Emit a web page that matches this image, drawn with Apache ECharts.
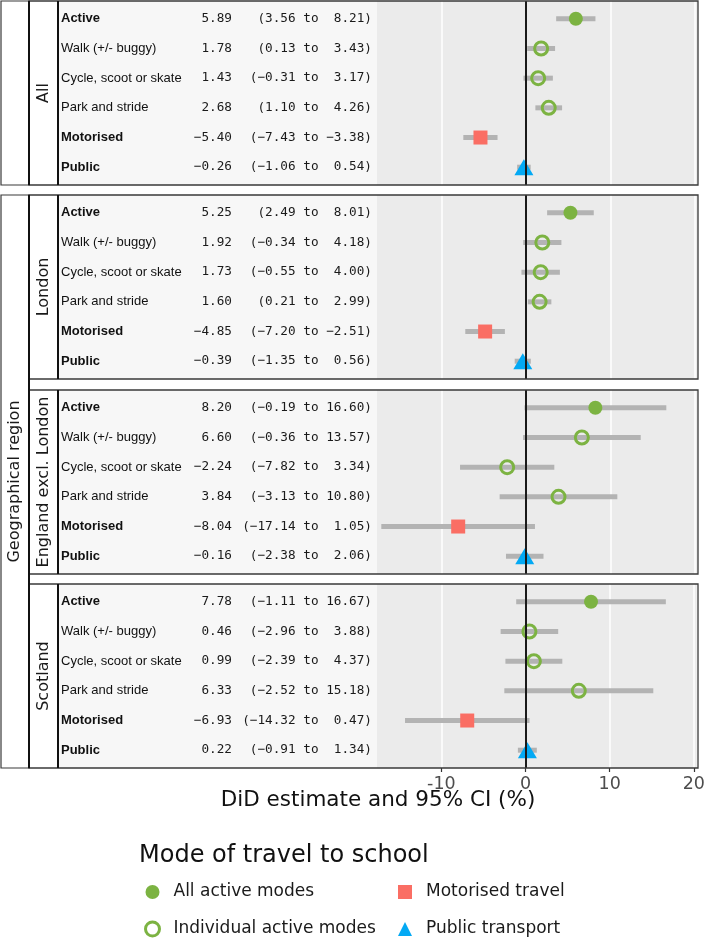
<!DOCTYPE html>
<html>
<head>
<meta charset="utf-8">
<script src="https://cdn.jsdelivr.net/npm/echarts@6/dist/echarts.min.js"></script>
<style>
html, body { margin: 0; padding: 0; background: #fff; }
#chart { width: 708px; height: 942px; }
</style>
</head>
<body>
<div id="chart"></div>
<script>
// regions (facets) and rows
var regions = ['All', 'London', 'England excl. London', 'Scotland'];
var modes = ['Active', 'Walk (+/- buggy)', 'Cycle, scoot or skate', 'Park and stride', 'Motorised', 'Public'];
var boldModes = ['Active', 'Motorised', 'Public'];
var modeGroups = ['All active modes', 'Individual active modes', 'Individual active modes',
    'Individual active modes', 'Motorised travel', 'Public transport'];

// DiD estimates and 95% CI
var estAll = [5.89, 1.78, 1.43, 2.68, -5.40, -0.26];
var loAll = [3.56, 0.13, -0.31, 1.10, -7.43, -1.06];
var hiAll = [8.21, 3.43, 3.17, 4.26, -3.38, 0.54];

var estLondon = [5.25, 1.92, 1.73, 1.60, -4.85, -0.39];
var loLondon = [2.49, -0.34, -0.55, 0.21, -7.20, -1.35];
var hiLondon = [8.01, 4.18, 4.00, 2.99, -2.51, 0.56];

var estEngland = [8.20, 6.60, -2.24, 3.84, -8.04, -0.16];
var loEngland = [-0.19, -0.36, -7.82, -3.13, -17.14, -2.38];
var hiEngland = [16.60, 13.57, 3.34, 10.80, 1.05, 2.06];

var estScotland = [7.78, 0.46, 0.99, 6.33, -6.93, 0.22];
var loScotland = [-1.11, -2.96, -2.39, -2.52, -14.32, -0.91];
var hiScotland = [16.67, 3.88, 4.37, 15.18, 0.47, 1.34];

var xTicks = [-10, 0, 10, 20];
var rowTicks = [0, 1, 2, 3, 4, 5];

var est = [estAll, estLondon, estEngland, estScotland];
var lo = [loAll, loLondon, loEngland, loScotland];
var hi = [hiAll, hiLondon, hiEngland, hiScotland];

var GREEN = '#7cb342', RED = '#fa6e64', BLUE = '#03a9f4';

var groupStyle = {
    'All active modes': { symbol: 'circle', symbolSize: 14, itemStyle: { color: GREEN, opacity: 1 } },
    'Individual active modes': { symbol: 'circle', symbolSize: 13, itemStyle: { color: 'rgba(0,0,0,0)', borderColor: GREEN, borderWidth: 3, opacity: 1 } },
    'Motorised travel': { symbol: 'rect', symbolSize: 14, itemStyle: { color: RED, opacity: 1 } },
    'Public transport': { symbol: 'triangle', symbolSize: [19, 16], itemStyle: { color: BLUE, opacity: 1 } }
};

var panelTop = [1, 195, 390, 584];
var panelH = 184;

function fmt(v) {
    return v.toFixed(2).replace('-', '\u2212');
}

var chart = echarts.init(document.getElementById('chart'));

var grids = [], xAxes = [], yAxes = [], series = [], graphics = [];

regions.forEach(function (region, p) {
    var top = panelTop[p];
    var estText = est[p].map(fmt);
    var ciText = lo[p].map(function (l, i) {
        return '(' + fmt(l) + ' to ' + fmt(hi[p][i]).padStart(5, ' ') + ')';
    });

    grids.push({
        left: 377, top: top, width: 321, height: panelH,
        show: true, backgroundColor: '#ebebeb', borderWidth: 0
    });

    xAxes.push({
        gridIndex: p,
        type: 'value',
        min: -17.65,
        max: 20.35,
        axisLine: { show: false, onZero: false },
        axisTick: { show: p === 3, customValues: xTicks, length: 4, lineStyle: { color: '#333', width: 1.2 } },
        axisLabel: {
            show: p === 3, customValues: xTicks, margin: 7,
            fontFamily: 'DejaVu Sans', fontSize: 17.5, color: '#4d4d4d'
        },
        splitLine: { show: true, lineStyle: { color: '#ffffff', width: 1.5 } }
    });

    var yBase = {
        gridIndex: p, type: 'value', min: -0.6, max: 5.6, inverse: true, position: 'left', z: 50,
        axisLine: { show: false, onZero: false }, axisTick: { show: false }, splitLine: { show: false }
    };
    // CI column (also the axis the marks use)
    yAxes.push(Object.assign({}, yBase, {
        axisLabel: {
            customValues: rowTicks, margin: 5, align: 'right',
            fontFamily: 'DejaVu Sans Mono', fontSize: 12.7, color: '#1a1a1a',
            formatter: function (v) { return ciText[v]; }
        }
    }));
    // estimate column
    yAxes.push(Object.assign({}, yBase, {
        axisLabel: {
            customValues: rowTicks, margin: 145, align: 'right',
            fontFamily: 'DejaVu Sans Mono', fontSize: 12.7, color: '#1a1a1a',
            formatter: function (v) { return estText[v]; }
        }
    }));
    // mode label column
    yAxes.push(Object.assign({}, yBase, {
        axisLabel: {
            customValues: rowTicks, margin: 316, align: 'left',
            fontFamily: 'Liberation Sans', fontSize: 13, color: '#111',
            formatter: function (v) {
                var s = modes[v];
                return boldModes.indexOf(s) >= 0 ? '{b|' + s + '}' : s;
            },
            rich: { b: { fontFamily: 'Liberation Sans', fontSize: 13, fontWeight: 'bold', color: '#111' } }
        }
    }));

    // error bars
    series.push({
        type: 'custom',
        name: 'CI',
        xAxisIndex: p,
        yAxisIndex: p * 3,
        silent: true,
        encode: { x: [0, 1], y: 2 },
        data: lo[p].map(function (l, i) { return [l, hi[p][i], i]; }),
        renderItem: function (params, api) {
            var a = api.coord([api.value(0), api.value(2)]);
            var b = api.coord([api.value(1), api.value(2)]);
            return {
                type: 'line',
                shape: { x1: a[0], y1: a[1], x2: b[0], y2: b[1] },
                style: { stroke: '#b3b3b3', lineWidth: 5 }
            };
        }
    });

    // points, one series per legend group
    ['All active modes', 'Individual active modes', 'Motorised travel', 'Public transport'].forEach(function (g, k) {
        var data = [];
        modeGroups.forEach(function (mg, i) {
            if (mg === g) data.push([est[p][i], i]);
        });
        var s = Object.assign({
            type: 'scatter',
            name: g,
            xAxisIndex: p,
            yAxisIndex: p * 3,
            silent: true,
            data: data
        }, groupStyle[g]);
        if (k === 0) {
            s.markLine = {
                silent: true,
                symbol: ['none', 'none'],
                label: { show: false },
                lineStyle: { color: '#1a1a1a', width: 2, type: 'solid', opacity: 1 },
                data: [{ xAxis: 0 }]
            };
        }
        series.push(s);
    });

    // strip, table background and borders
    graphics.push({
        type: 'rect', shape: { x: 29, y: top, width: 29, height: panelH },
        style: { fill: '#ffffff' }, z: -10
    });
    graphics.push({
        type: 'rect', shape: { x: 58, y: top, width: 319, height: panelH },
        style: { fill: '#f7f7f7' }, z: -10
    });
    graphics.push({
        type: 'rect', shape: { x: 29, y: top, width: 669, height: panelH },
        style: { fill: null, stroke: '#3a3a3a', lineWidth: 1.3 }, z: 100
    });
    graphics.push({
        type: 'line', shape: { x1: 58, y1: top, x2: 58, y2: top + panelH },
        style: { stroke: '#111', lineWidth: 2 }, z: 101
    });
    graphics.push({
        type: 'line', shape: { x1: 29, y1: top, x2: 29, y2: top + panelH },
        style: { stroke: '#111', lineWidth: 2 }, z: 101
    });
    graphics.push({
        type: 'text', x: 43.5, y: top + panelH / 2, rotation: Math.PI / 2,
        style: {
            text: region, fontFamily: 'DejaVu Sans', fontSize: 16, fill: '#1a1a1a',
            align: 'center', verticalAlign: 'middle'
        }, z: 101
    });
});

// outer strips
graphics.push({
    type: 'rect', shape: { x: 1, y: panelTop[0], width: 28, height: panelH },
    style: { fill: '#ffffff', stroke: '#3a3a3a', lineWidth: 1.2 }, z: 99
});
graphics.push({
    type: 'rect', shape: { x: 1, y: panelTop[1], width: 28, height: panelTop[3] + panelH - panelTop[1] },
    style: { fill: '#ffffff', stroke: '#3a3a3a', lineWidth: 1.2 }, z: 99
});
graphics.push({
    type: 'line', shape: { x1: 29, y1: panelTop[1], x2: 29, y2: panelTop[3] + panelH },
    style: { stroke: '#111', lineWidth: 2 }, z: 101
});
graphics.push({
    type: 'text', x: 15, y: (panelTop[1] + panelTop[3] + panelH) / 2, rotation: Math.PI / 2,
    style: {
        text: 'Geographical region', fontFamily: 'DejaVu Sans', fontSize: 16, fill: '#1a1a1a',
        align: 'center', verticalAlign: 'middle'
    }, z: 101
});
// axis title and legend title
graphics.push({
    type: 'text', x: 378, y: 800,
    style: {
        text: 'DiD estimate and 95% CI (%)', fontFamily: 'DejaVu Sans', fontSize: 21.5, fill: '#111',
        align: 'center', verticalAlign: 'middle'
    }
});
graphics.push({
    type: 'text', x: 139, y: 856,
    style: {
        text: 'Mode of travel to school', fontFamily: 'DejaVu Sans', fontSize: 24, fill: '#111',
        align: 'left', verticalAlign: 'middle'
    }
});

var legendBase = {
    orient: 'vertical',
    top: 882,
    padding: 0,
    itemWidth: 14,
    itemHeight: 14,
    itemGap: 17,
    selectedMode: false,
    textStyle: { fontFamily: 'DejaVu Sans', fontSize: 17, color: '#1a1a1a', lineHeight: 20, padding: [0, 0, 0, 9] }
};

var option = {
    animation: false,
    backgroundColor: '#ffffff',
    grid: grids,
    xAxis: xAxes,
    yAxis: yAxes,
    series: series,
    graphic: graphics,
    legend: [
        Object.assign({}, legendBase, {
            left: 144,
            data: [
                { name: 'All active modes', icon: 'circle', itemStyle: { color: GREEN, opacity: 1 } },
                { name: 'Individual active modes', icon: 'circle', itemStyle: { color: 'rgba(0,0,0,0)', borderColor: GREEN, borderWidth: 3, opacity: 1 } }
            ]
        }),
        Object.assign({}, legendBase, {
            left: 398,
            data: [
                { name: 'Motorised travel', icon: 'rect', itemStyle: { color: RED, opacity: 1 } },
                { name: 'Public transport', icon: 'triangle', itemStyle: { color: BLUE, opacity: 1 } }
            ]
        })
    ]
};

option && chart.setOption(option);
</script>
</body>
</html>
